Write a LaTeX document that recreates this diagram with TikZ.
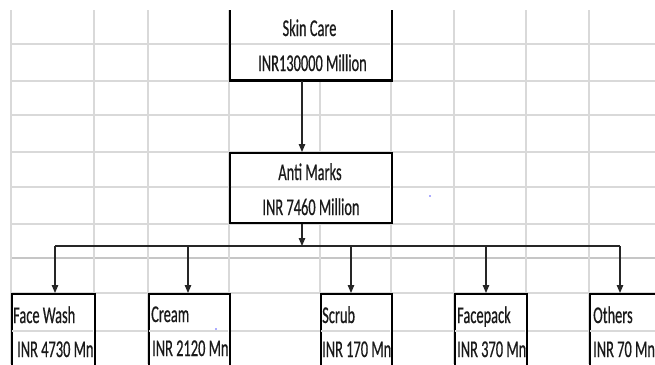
\documentclass[tikz,border=0pt]{standalone}
\usepackage{graphicx}
\usepackage{fontspec}
\setmainfont{Carlito}
\newfontfamily\lblfont{Carlito}[FakeBold=0.7]
\usetikzlibrary{arrows.meta}
\newcommand{\sqz}[1]{\scalebox{0.6}[1]{#1}}
\definecolor{gridgray}{HTML}{D9D9D9}
\definecolor{gridthick}{HTML}{C6C6C6}
\definecolor{txtcol}{HTML}{1A1A1A}
\tikzset{
  gridline/.style={draw=gridgray, line width=1.4pt},
  gridheavy/.style={draw=gridthick, line width=2.4pt},
  boxnode/.style={draw=black, fill=white, line width=2pt, rectangle, inner sep=0pt, anchor=north west},
  lbl/.style={inner sep=0pt, text=txtcol, font=\lblfont\fontsize{24pt}{24pt}\selectfont},
  conn/.style={draw=black!85, line width=1.1pt},
  arr/.style={conn, -{Triangle[length=8pt,width=6.5pt]}},
  speck/.style={fill=blue!65, draw=none}
}
\begin{document}
\begin{tikzpicture}[x=1pt, y=-1pt]
\useasboundingbox (0,0) rectangle (655,364);
\fill[white] (0,0) rectangle (655,364);
\begin{scope}
\clip (9,10) rectangle (655,364);
% horizontal grid lines
\foreach \yy in {44,81,115,152,187,224,293,331}
  \draw[gridline] (11,\yy) -- (655,\yy);
\draw[gridheavy] (11,258) -- (655,258);
% vertical grid lines
\foreach \xx in {11,94,148,229,391,454,526,589}
  \draw[gridline] (\xx,10) -- (\xx,364);
\draw[gridline] (320,79) -- (320,152);
\draw[gridline] (320,222) -- (320,293);

% boxes
\node[boxnode, minimum width=162pt, minimum height=84pt] (sc) at (229,-5) {};
\node[boxnode, minimum width=162pt, minimum height=70pt] (am) at (229,152) {};
\node[boxnode, minimum width=83pt, minimum height=90pt] (fw) at (11,293) {};
\node[boxnode, minimum width=81pt, minimum height=90pt] (cr) at (148,293) {};
\node[boxnode, minimum width=71pt, minimum height=90pt] (scr) at (320,293) {};
\node[boxnode, minimum width=72pt, minimum height=90pt] (fp) at (454,293) {};
\node[boxnode, minimum width=90pt, minimum height=90pt] (ot) at (589,293) {};
\draw[line width=2.6pt] (sc.south west) -- (sc.south east);

% grid lines visible through the boxes (horizontal cell borders)
\draw[gridline] (230.5,44) -- (389.5,44);
\draw[gridline] (230.5,187) -- (389.5,187);
\draw[gridline] (12,331) -- (93,331);
\draw[gridline] (149,331) -- (228,331);
\draw[gridline] (321,331) -- (390,331);
\draw[gridline] (455,331) -- (525,331);
\draw[gridline] (590,331) -- (655,331);

% texts
\node[lbl, anchor=base] (t1) at (309.5,36) {\sqz{Skin Care}};
\node[lbl, anchor=base] (t2) at (312.5,71) {\sqz{INR130000 Million}};
\node[lbl, anchor=base] (t3) at (310,180) {\sqz{Anti Marks}};
\node[lbl, anchor=base] (t4) at (311,215) {\sqz{INR 7460 Million}};
\node[lbl, anchor=base west] (t5) at (13,323) {\sqz{Face Wash}};
\node[lbl, anchor=base west] (t6) at (17,357) {\sqz{INR 4730 Mn}};
\node[lbl, anchor=base west] (t7) at (151,322) {\sqz{Cream}};
\node[lbl, anchor=base west] (t8) at (152,356) {\sqz{INR 2120 Mn}};
\node[lbl, anchor=base west] (t9) at (322,323) {\sqz{Scrub}};
\node[lbl, anchor=base west] (t10) at (322,357) {\sqz{INR 170 Mn}};
\node[lbl, anchor=base west] (t11) at (457,323) {\sqz{Facepack}};
\node[lbl, anchor=base west] (t12) at (457,357) {\sqz{INR 370 Mn}};
\node[lbl, anchor=base west] (t13) at (593,323) {\sqz{Others}};
\node[lbl, anchor=base west] (t14) at (593,357) {\sqz{INR 70 Mn}};

% connectors
\coordinate (bus) at (302,246);
\coordinate (b1) at (55,246);
\coordinate (b2) at (188,246);
\coordinate (b3) at (351,246);
\coordinate (b4) at (486,246);
\coordinate (b5) at (620,246);
\draw[arr] (sc.south -| bus) -- (am.north -| bus);
\draw[arr] (am.south -| bus) -- (bus);
\draw[conn] (b1) -- (b5);
\draw[arr] (b1) -- (fw.north -| b1);
\draw[arr] (b2) -- (cr.north -| b2);
\draw[arr] (b3) -- (scr.north -| b3);
\draw[arr] (b4) -- (fp.north -| b4);
\draw[arr] (b5) -- (ot.north -| b5);

% small specks
\fill[speck] (216,329) circle (0.9);
\fill[speck] (430,196) circle (0.9);
\end{scope}
\end{tikzpicture}
\end{document}
